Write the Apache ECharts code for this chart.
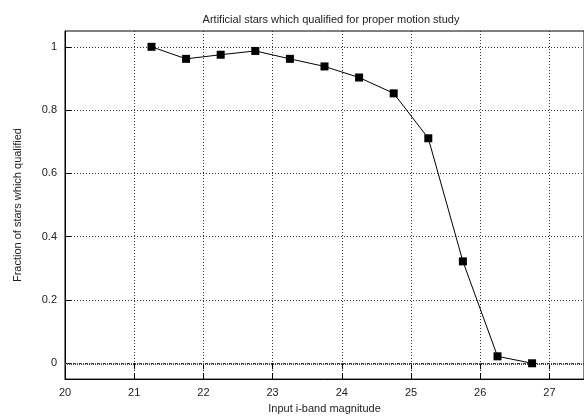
<!DOCTYPE html>
<html>
<head>
<meta charset="utf-8">
<script src="https://cdn.jsdelivr.net/npm/echarts@6/dist/echarts.min.js"></script>
<style>html,body{margin:0;padding:0;background:#fff;}#c{width:584px;height:419px;}</style>
</head>
<body>
<div id="c"></div>
<script>
const titleText = 'Artificial stars which qualified for proper motion study';
const xName = 'Input i-band magnitude';
const yName = 'Fraction of stars which qualified';
const magnitudes = [21.25, 21.75, 22.25, 22.75, 23.25, 23.75, 24.25, 24.75, 25.25, 25.75, 26.25, 26.75];
const fractions = [1.0, 0.962, 0.975, 0.987, 0.962, 0.938, 0.903, 0.853, 0.711, 0.322, 0.022, 0.0];
const yTicks = [0, 0.2, 0.4, 0.6, 0.8, 1];

const font = 'Liberation Sans, Arial, Helvetica, sans-serif';
const chart = echarts.init(document.getElementById('c'), null, {renderer: 'canvas'});
const gridLine = {show: true, lineStyle: {color: '#333', type: [1, 2], width: 1}};
chart.setOption({
  animation: false,
  backgroundColor: '#fff',
  title: {
    text: titleText, left: 326, top: 9, textAlign: 'center',
    textStyle: {fontFamily: font, fontSize: 11, fontWeight: 'normal', color: '#222'}
  },
  grid: {left: 65, top: 31, width: 525, height: 352, show: true, borderColor: '#000', borderWidth: 1, backgroundColor: 'transparent'},
  xAxis: [{
    type: 'value', min: 20, max: 27.5, interval: 1, position: 'bottom',
    name: xName, nameLocation: 'middle', nameGap: 21,
    nameTextStyle: {fontFamily: font, fontSize: 11, color: '#222'},
    axisLine: {show: true, onZero: false, lineStyle: {color: '#000', width: 1}},
    axisTick: {show: true, inside: true, length: 6, lineStyle: {color: '#000'}},
    axisLabel: {fontFamily: font, fontSize: 11, color: '#222', margin: 8, showMaxLabel: false},
    splitLine: gridLine
  }, {
    type: 'value', min: 20, max: 27.5, interval: 1, position: 'top',
    axisLine: {show: false},
    axisTick: {show: true, inside: true, length: 6, lineStyle: {color: '#000'}},
    axisLabel: {show: false},
    splitLine: {show: false}
  }],
  yAxis: [{
    type: 'value', min: -0.05, max: 1.05,
    name: yName, nameLocation: 'middle', nameGap: 42, nameRotate: 90,
    nameTextStyle: {fontFamily: font, fontSize: 11, color: '#222'},
    axisLine: {show: true, onZero: false, lineStyle: {color: '#000', width: 1}},
    axisTick: {show: true, inside: true, length: 6, customValues: yTicks, lineStyle: {color: '#000'}},
    axisLabel: {fontFamily: font, fontSize: 11, color: '#222', margin: 8, customValues: yTicks,
      formatter: v => String(Math.round(v * 10) / 10)},
    splitLine: gridLine
  }],
  series: [{
    type: 'line',
    data: magnitudes.map((m, i) => [m, fractions[i]]),
    symbol: 'rect', symbolSize: 8,
    itemStyle: {color: '#000'},
    lineStyle: {color: '#000', width: 1},
    z: 5,
    markLine: {
      silent: true, symbol: 'none', label: {show: false},
      lineStyle: {color: '#444', type: [1, 1], width: 2},
      data: [{yAxis: 0}],
      z: 1
    }
  }]
});
</script>
</body>
</html>
